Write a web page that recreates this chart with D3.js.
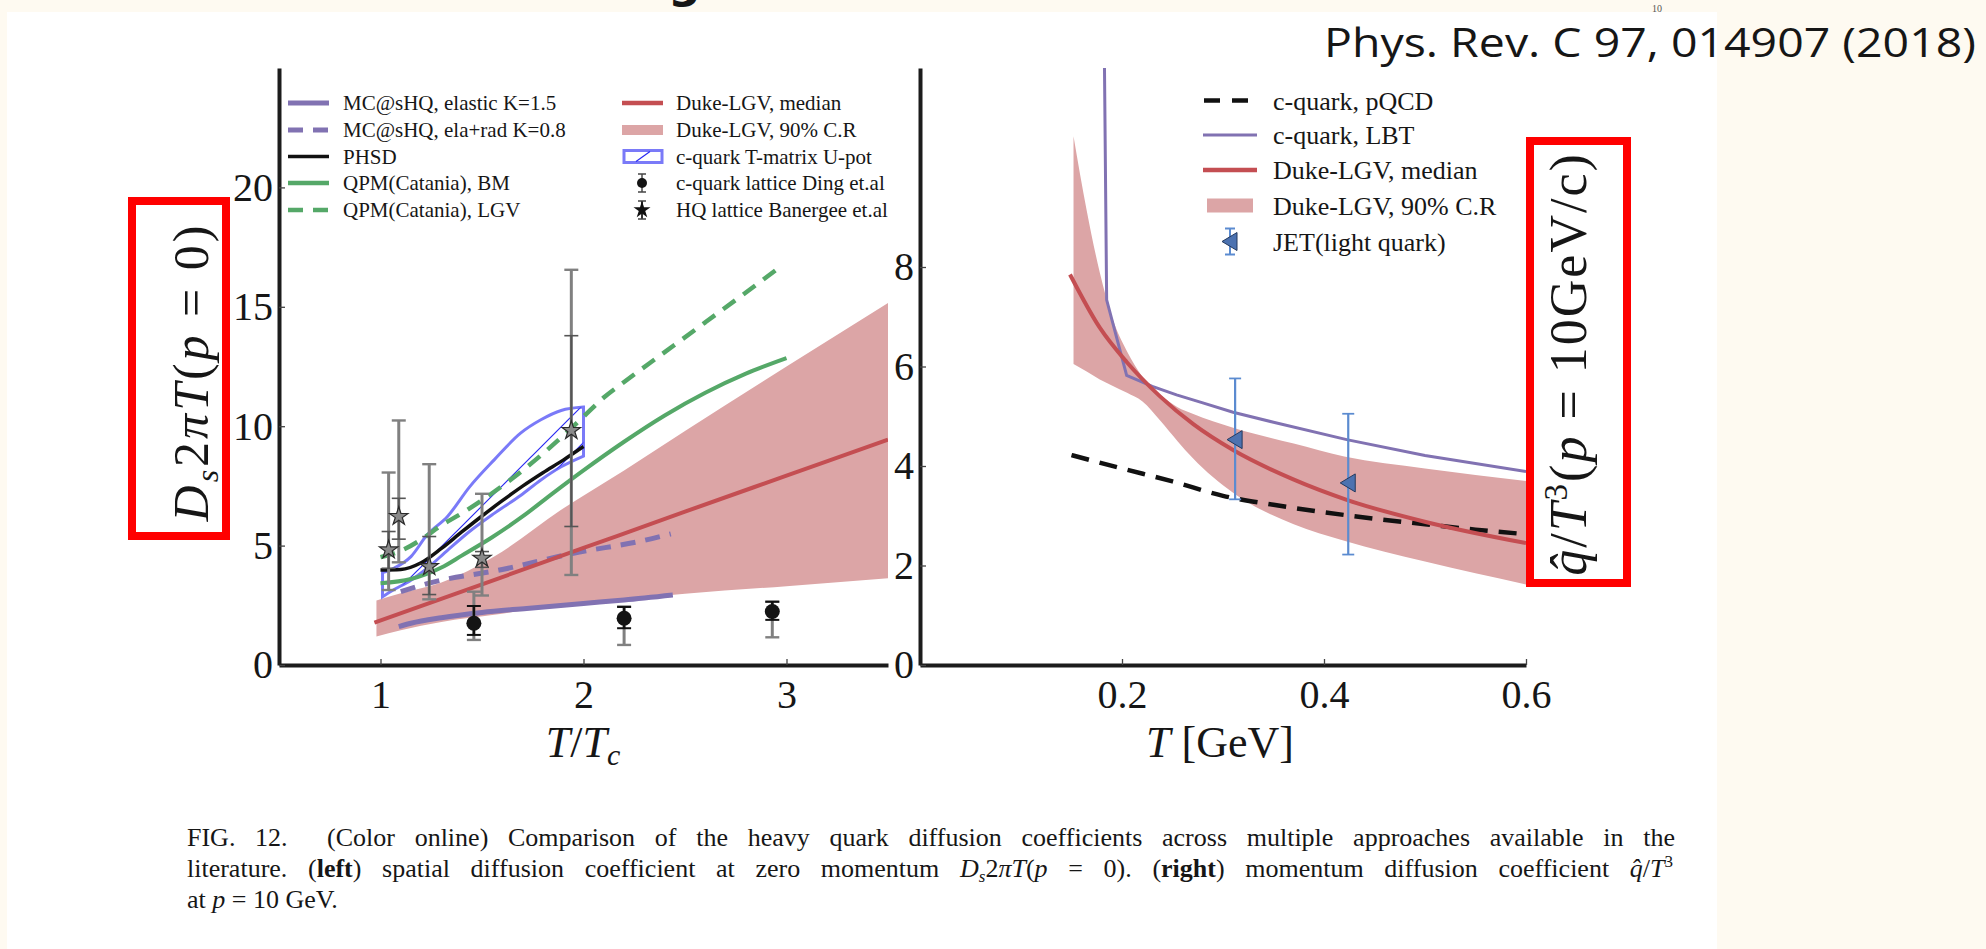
<!DOCTYPE html>
<html>
<head>
<meta charset="utf-8">
<script src="https://cdn.jsdelivr.net/npm/d3@7"></script>
<style>
  body { margin: 0; background: #fefaf1; }
  svg { display: block; }
  text { font-family: "Liberation Serif", "DejaVu Serif", serif; fill: #161616; white-space: pre; }
</style>
</head>
<body>
<svg id="fig" width="1986" height="949"></svg>
<script>
// ---- left panel: D_s 2piT (p=0) against T/Tc ----
const mcsElasticX = [1.09, 1.15, 1.3, 1.5, 1.72, 2.0, 2.2, 2.44];
const mcsElasticY = [1.61, 1.75, 1.98, 2.2, 2.37, 2.58, 2.72, 2.93];
const mcsRadX = [1.1, 1.25, 1.6, 1.95, 2.3, 2.43];
const mcsRadY = [3.07, 3.45, 4.0, 4.68, 5.22, 5.49];
const phsdX = [1.0, 1.1, 1.2, 1.3, 1.4, 1.5, 1.6, 1.7, 1.8, 1.9, 2.0];
const phsdY = [3.98, 4.0, 4.28, 4.88, 5.57, 6.24, 6.88, 7.49, 8.05, 8.58, 9.15];
const qpmBmX = [1.0, 1.15, 1.3, 1.4, 1.55, 1.7, 1.85, 2.0, 2.2, 2.4, 2.6, 2.8, 3.0];
const qpmBmY = [3.42, 3.6, 4.08, 4.58, 5.35, 6.22, 7.2, 8.15, 9.35, 10.45, 11.4, 12.2, 12.85];
const qpmLgvX = [1.0, 1.1, 1.2, 1.3, 1.4, 1.5, 1.6, 1.7, 1.8, 1.9, 2.0, 2.1, 2.2, 2.4, 2.6, 2.8, 2.95];
const qpmLgvY = [4.52, 4.78, 5.25, 5.85, 6.35, 6.9, 7.5, 8.15, 8.85, 9.6, 10.4, 11.2, 11.85, 13.1, 14.35, 15.6, 16.55];
const dukeMedX = [0.97, 1.5, 2.0, 2.5, 3.0, 3.5];
const dukeMedY = [1.77, 3.38, 4.9, 6.42, 7.93, 9.44];
const dukeBandX = [0.98, 1.1, 1.3, 1.56, 1.89, 2.2, 2.5, 3.0, 3.5];
const dukeBandHi = [2.7, 3.0, 3.45, 4.54, 6.5, 8.15, 9.8, 12.5, 15.16];
const dukeBandLo = [1.19, 1.45, 1.8, 2.1, 2.5, 2.75, 2.98, 3.3, 3.63];
const tmX = [1.01, 1.065, 1.15, 1.23, 1.33, 1.44, 1.56, 1.69, 1.79, 1.89, 2.0];
const tmHi = [3.87, 4.05, 4.54, 5.45, 6.22, 7.47, 8.59, 9.71, 10.27, 10.66, 10.8];
const tmLo = [2.86, 3.15, 3.55, 4.05, 4.8, 5.6, 6.35, 7.1, 7.75, 8.3, 8.75];
const dingX = [1.46, 2.2, 2.93];
const dingY = [1.75, 1.96, 2.24];
const dingStatLo = [1.26, 1.54, 1.89];
const dingStatHi = [2.47, 2.43, 2.65];
const dingSysLo = [1.05, 0.84, 1.16];
const dingSysHi = [3.07, 2.45, 2.65];
const banX = [1.04, 1.09, 1.24, 1.5, 1.94];
const banY = [4.82, 6.22, 4.12, 4.47, 9.82];
const banTotLo = [3.14, 4.3, 2.75, 2.91, 3.77];
const banTotHi = [8.06, 10.24, 8.41, 7.17, 16.55];
const banStatLo = [4.05, 5.27, 2.95, 4.09, 5.8];
const banStatHi = [5.59, 6.98, 5.38, 4.75, 13.79];
const leftTicksX = [1, 2, 3];
const leftTicksY = [0, 5, 10, 15, 20];

// ---- right panel: qhat/T^3 (p=10 GeV/c) against T ----
const pqcdT = [0.15, 0.2, 0.25, 0.3, 0.35, 0.4, 0.45, 0.5, 0.55, 0.6];
const pqcdQ = [4.22, 3.95, 3.69, 3.4, 3.22, 3.07, 2.94, 2.83, 2.72, 2.63];
const lbtT = [0.1822, 0.1848, 0.2046, 0.23, 0.254, 0.28, 0.31, 0.35, 0.4225, 0.5, 0.6];
const lbtQ = [13.0, 7.34, 5.82, 5.6, 5.43, 5.27, 5.08, 4.88, 4.53, 4.21, 3.89];
const dukeMedT = [0.1485, 0.178, 0.2046, 0.2376, 0.2706, 0.31, 0.3696, 0.4225, 0.5017, 0.6];
const dukeMedQ = [7.85, 6.78, 6.09, 5.40, 4.84, 4.32, 3.73, 3.32, 2.87, 2.45];
const dukeBandT = [0.152, 0.165, 0.178, 0.19, 0.205, 0.22, 0.238, 0.255, 0.27, 0.31, 0.37, 0.42, 0.5, 0.6];
const dukeBandQHi = [10.63, 9.14, 7.89, 7.0, 6.3, 5.8, 5.43, 5.18, 5.05, 4.77, 4.45, 4.19, 3.95, 3.70];
const dukeBandQLo = [6.05, 5.9, 5.74, 5.62, 5.47, 5.3, 4.91, 4.5, 4.16, 3.46, 2.83, 2.5, 2.08, 1.62];
const jetT = [0.312, 0.424];
const jetQ = [4.53, 3.66];
const jetLo = [3.33, 2.22];
const jetHi = [5.76, 5.05];
const rightTicksX = [0.2, 0.4, 0.6];
const rightTicksY = [0, 2, 4, 6, 8];

const legendLeft1 = ['MC@sHQ, elastic K=1.5', 'MC@sHQ, ela+rad K=0.8', 'PHSD', 'QPM(Catania), BM', 'QPM(Catania), LGV'];
const legendLeft2 = ['Duke-LGV, median', 'Duke-LGV, 90% C.R', 'c-quark T-matrix U-pot', 'c-quark lattice Ding et.al', 'HQ lattice Banergee et.al'];
const legendRight = ['c-quark, pQCD', 'c-quark, LBT', 'Duke-LGV, median', 'Duke-LGV, 90% C.R', 'JET(light quark)'];

const purple = '#8172b2', green = '#55a868', red = '#c44e52', bandFill = '#dca5a6', jetBlue = '#4c72b0';

const svg = d3.select('#fig');

// page background + the white figure sheet
svg.append('rect').attr('width', 1986).attr('height', 949).attr('fill', '#fefaf1');
svg.append('text').attr('x', 668).attr('y', -3).style('font-family', 'DejaVu Sans').style('font-weight', 'bold').style('font-size', '46px').text('g');
svg.append('rect').attr('x', 7).attr('y', 12).attr('width', 1710).attr('height', 937).attr('fill', '#fff');
svg.append('text').attr('x', 1652).attr('y', 12).style('font-size', '10px').style('fill', '#555').text('10');

const defs = svg.append('defs');
defs.append('clipPath').attr('id', 'clipL').append('rect').attr('x', 279).attr('y', 68).attr('width', 609).attr('height', 597);
defs.append('clipPath').attr('id', 'clipR').append('rect').attr('x', 920).attr('y', 68).attr('width', 606).attr('height', 597);
const hatch = defs.append('pattern').attr('id', 'hatch').attr('patternUnits', 'userSpaceOnUse').attr('width', 38).attr('height', 38);
hatch.append('path').attr('d', 'M0,38 L38,0 M-10,10 L10,-10 M28,48 L48,28').attr('stroke', '#2a2af2').attr('stroke-width', 1.2);

const xL = d3.scaleLinear().domain([0.5, 3.5]).range([279, 888]);
const yL = d3.scaleLinear().domain([0, 25]).range([665, 68]);
const xR = d3.scaleLinear().domain([0, 0.6]).range([920, 1526]);
const yR = d3.scaleLinear().domain([0, 12]).range([665, 68]);

function linePath(xs, ys, sx, sy, curve) {
    return d3.line().x((d, i) => sx(xs[i])).y(d => sy(d)).curve(curve || d3.curveMonotoneX)(ys);
}
function bandPath(xs, lo, hi, sx, sy) {
    return d3.area().x((d, i) => sx(xs[i])).y0((d, i) => sy(lo[i])).y1(d => sy(d)).curve(d3.curveMonotoneX)(hi);
}
function errBars(g, xs, lo, hi, sx, sy, color, width, cap) {
    g.selectAll(null).data(xs).join('line')
        .attr('x1', d => sx(d)).attr('x2', d => sx(d))
        .attr('y1', (d, i) => sy(lo[i])).attr('y2', (d, i) => sy(hi[i]))
        .attr('stroke', color).attr('stroke-width', width);
    [lo, hi].forEach(arr => {
        g.selectAll(null).data(xs).join('line')
            .attr('x1', d => sx(d) - cap).attr('x2', d => sx(d) + cap)
            .attr('y1', (d, i) => sy(arr[i])).attr('y2', (d, i) => sy(arr[i]))
            .attr('stroke', color).attr('stroke-width', width * 0.8);
    });
}
function drawAxes(sx, sy, tx, ty, fmt) {
    const ax = svg.append('g').attr('transform', `translate(0,${sy.range()[0]})`)
        .call(d3.axisBottom(sx).tickValues(tx).tickFormat(fmt).tickSizeInner(-6).tickSizeOuter(0).tickPadding(15));
    const ay = svg.append('g').attr('transform', `translate(${sx.range()[0]},0)`)
        .call(d3.axisLeft(sy).tickValues(ty).tickFormat(d3.format('d')).tickSizeInner(-6).tickSizeOuter(0).tickPadding(6));
    [ax, ay].forEach(a => {
        a.select('.domain').attr('stroke', '#1c1c1c').attr('stroke-width', 4);
        a.selectAll('.tick line').attr('stroke', '#444').attr('stroke-width', 1.3);
        a.selectAll('text').style('font-family', '"Liberation Serif", serif').style('font-size', '40px').style('fill', '#161616');
    });
}

// ---------- left panel ----------
const pL = svg.append('g').attr('clip-path', 'url(#clipL)');
pL.append('path').attr('d', bandPath(dukeBandX, dukeBandLo, dukeBandHi, xL, yL)).attr('fill', bandFill);
pL.append('path').attr('d', bandPath(tmX, tmLo, tmHi, xL, yL))
    .attr('fill', 'url(#hatch)').attr('stroke', '#4d4df5').attr('stroke-opacity', 0.75).attr('stroke-width', 3);
pL.append('path').attr('d', linePath(mcsElasticX, mcsElasticY, xL, yL)).attr('fill', 'none').attr('stroke', purple).attr('stroke-width', 5);
pL.append('path').attr('d', linePath(mcsRadX, mcsRadY, xL, yL)).attr('fill', 'none').attr('stroke', purple).attr('stroke-width', 5).attr('stroke-dasharray', '15,10');
pL.append('path').attr('d', linePath(dukeMedX, dukeMedY, xL, yL)).attr('fill', 'none').attr('stroke', red).attr('stroke-width', 4);
pL.append('path').attr('d', linePath(phsdX, phsdY, xL, yL)).attr('fill', 'none').attr('stroke', '#111').attr('stroke-width', 3.5);
pL.append('path').attr('d', linePath(qpmBmX, qpmBmY, xL, yL)).attr('fill', 'none').attr('stroke', green).attr('stroke-width', 4);
pL.append('path').attr('d', linePath(qpmLgvX, qpmLgvY, xL, yL)).attr('fill', 'none').attr('stroke', green).attr('stroke-width', 4.5).attr('stroke-dasharray', '15,10');

// lattice points
errBars(pL, dingX, dingSysLo, dingSysHi, xL, yL, '#808080', 3, 7);
errBars(pL, dingX, dingStatLo, dingStatHi, xL, yL, '#111', 2.5, 7);
pL.selectAll(null).data(dingX).join('circle')
    .attr('cx', d => xL(d)).attr('cy', (d, i) => yL(dingY[i])).attr('r', 7.5).attr('fill', '#141414');
errBars(pL, banX, banTotLo, banTotHi, xL, yL, '#808080', 3, 7);
errBars(pL, banX, banStatLo, banStatHi, xL, yL, '#555', 2, 7);
pL.selectAll(null).data(banX).join('path')
    .attr('transform', (d, i) => `translate(${xL(d)},${yL(banY[i])})`)
    .attr('d', d3.symbol(d3.symbolStar, 105))
    .attr('fill', '#8a8a8a').attr('stroke', '#2a2a2a').attr('stroke-width', 1.2);

drawAxes(xL, yL, leftTicksX, leftTicksY, d3.format('d'));

// ---------- right panel ----------
const pR = svg.append('g').attr('clip-path', 'url(#clipR)');
pR.append('path').attr('d', bandPath(dukeBandT, dukeBandQLo, dukeBandQHi, xR, yR)).attr('fill', bandFill);
pR.append('path').attr('d', linePath(pqcdT, pqcdQ, xR, yR)).attr('fill', 'none').attr('stroke', '#111').attr('stroke-width', 4.5).attr('stroke-dasharray', '18,11');
pR.append('path').attr('d', linePath(lbtT, lbtQ, xR, yR, d3.curveLinear)).attr('fill', 'none').attr('stroke', purple).attr('stroke-width', 3);
pR.append('path').attr('d', linePath(dukeMedT, dukeMedQ, xR, yR)).attr('fill', 'none').attr('stroke', red).attr('stroke-width', 4);
errBars(pR, jetT, jetLo, jetHi, xR, yR, '#5b8bd0', 2.2, 6);
const triLeft = 'M-8,0 L7,-9 L7,9 Z';
pR.selectAll(null).data(jetT).join('path')
    .attr('transform', (d, i) => `translate(${xR(d)},${yR(jetQ[i])})`)
    .attr('d', triLeft).attr('fill', jetBlue).attr('stroke', '#23395e').attr('stroke-width', 1);

drawAxes(xR, yR, rightTicksX, rightTicksY, d3.format('.1f'));

// ---------- legends ----------
const legL = svg.append('g').style('font-size', '21px');
const rowsL = [103, 130, 156.5, 183, 210];
legendLeft1.forEach((t, i) => {
    legL.append('text').attr('x', 343).attr('y', rowsL[i]).attr('dy', '0.35em').text(t);
});
legendLeft2.forEach((t, i) => {
    legL.append('text').attr('x', 676).attr('y', rowsL[i]).attr('dy', '0.35em').text(t);
});
const sampleL = [[purple, 5, null], [purple, 5, '15,10'], ['#111', 3.5, null], [green, 4.5, null], [green, 4.5, '15,10']];
sampleL.forEach((s, i) => {
    legL.append('line').attr('x1', 288).attr('x2', 329).attr('y1', rowsL[i]).attr('y2', rowsL[i])
        .attr('stroke', s[0]).attr('stroke-width', s[1]).attr('stroke-dasharray', s[2]);
});
legL.append('line').attr('x1', 622).attr('x2', 663).attr('y1', rowsL[0]).attr('y2', rowsL[0]).attr('stroke', red).attr('stroke-width', 4.5);
legL.append('rect').attr('x', 622).attr('y', rowsL[1] - 5).attr('width', 41).attr('height', 10).attr('fill', bandFill);
legL.append('rect').attr('x', 624).attr('y', rowsL[2] - 6).attr('width', 38).attr('height', 12)
    .attr('fill', 'none').attr('stroke', '#4d4df5').attr('stroke-opacity', 0.75).attr('stroke-width', 3);
legL.append('line').attr('x1', 636).attr('x2', 650).attr('y1', rowsL[2] + 5).attr('y2', rowsL[2] - 5).attr('stroke', '#2a2af2').attr('stroke-width', 1.2);
legL.append('line').attr('x1', 642).attr('x2', 642).attr('y1', rowsL[3] - 9).attr('y2', rowsL[3] + 9).attr('stroke', '#777').attr('stroke-width', 2);
legL.append('circle').attr('cx', 642).attr('cy', rowsL[3]).attr('r', 5).attr('fill', '#141414');
legL.append('line').attr('x1', 642).attr('x2', 642).attr('y1', rowsL[4] - 9).attr('y2', rowsL[4] + 9).attr('stroke', '#333').attr('stroke-width', 2);
[rowsL[4] - 9, rowsL[4] + 9, rowsL[3] - 9, rowsL[3] + 9].forEach(y => {
    legL.append('line').attr('x1', 638).attr('x2', 646).attr('y1', y).attr('y2', y).attr('stroke', '#444').attr('stroke-width', 1.5);
});
legL.append('path').attr('transform', `translate(642,${rowsL[4]})`).attr('d', d3.symbol(d3.symbolStar, 90)).attr('fill', '#111');

const legR = svg.append('g').style('font-size', '26px');
const rowsR = [100.5, 135, 170, 205.5, 241.5];
legendRight.forEach((t, i) => {
    legR.append('text').attr('x', 1273).attr('y', rowsR[i]).attr('dy', '0.35em').text(t);
});
legR.append('line').attr('x1', 1204).attr('x2', 1250).attr('y1', rowsR[0]).attr('y2', rowsR[0]).attr('stroke', '#111').attr('stroke-width', 4.5).attr('stroke-dasharray', '16,12');
legR.append('line').attr('x1', 1203).attr('x2', 1257).attr('y1', rowsR[1]).attr('y2', rowsR[1]).attr('stroke', purple).attr('stroke-width', 3);
legR.append('line').attr('x1', 1203).attr('x2', 1257).attr('y1', rowsR[2]).attr('y2', rowsR[2]).attr('stroke', red).attr('stroke-width', 4.5);
legR.append('rect').attr('x', 1207).attr('y', rowsR[3] - 7).attr('width', 46).attr('height', 14).attr('fill', bandFill);
legR.append('line').attr('x1', 1230).attr('x2', 1230).attr('y1', rowsR[4] - 13).attr('y2', rowsR[4] + 13).attr('stroke', '#5b8bd0').attr('stroke-width', 2);
[rowsR[4] - 13, rowsR[4] + 13].forEach(y => {
    legR.append('line').attr('x1', 1225).attr('x2', 1235).attr('y1', y).attr('y2', y).attr('stroke', '#5b8bd0').attr('stroke-width', 2);
});
legR.append('path').attr('transform', `translate(1230,${rowsR[4]})`).attr('d', triLeft).attr('fill', jetBlue).attr('stroke', '#23395e');

// ---------- axis titles ----------
const xtL = svg.append('text').attr('x', 583).attr('y', 757).attr('text-anchor', 'middle').style('font-size', '44px');
xtL.append('tspan').style('font-style', 'italic').text('T');
xtL.append('tspan').text('/');
xtL.append('tspan').style('font-style', 'italic').text('T');
xtL.append('tspan').style('font-style', 'italic').style('font-size', '30px').attr('dy', 8).text('c');

const xtR = svg.append('text').attr('x', 1220).attr('y', 757).attr('text-anchor', 'middle').style('font-size', '44px');
xtR.append('tspan').style('font-style', 'italic').text('T');
xtR.append('tspan').text(' [GeV]');

const ytL = svg.append('text').attr('transform', 'translate(208,372) rotate(-90)').attr('text-anchor', 'middle')
    .style('font-size', '50px').style('letter-spacing', '3px');
ytL.append('tspan').style('font-style', 'italic').text('D');
ytL.append('tspan').style('font-style', 'italic').style('font-size', '32px').attr('dy', 10).text('s');
ytL.append('tspan').attr('dy', -10).text('2');
ytL.append('tspan').style('font-style', 'italic').text('πT');
ytL.append('tspan').text('(');
ytL.append('tspan').style('font-style', 'italic').text('p');
ytL.append('tspan').text(' = 0)');

const ytR = svg.append('text').attr('transform', 'translate(1586,364) rotate(-90)').attr('text-anchor', 'middle')
    .style('font-size', '52px').style('letter-spacing', '2px');
ytR.append('tspan').style('font-style', 'italic').text('q\u0302');
ytR.append('tspan').text('/');
ytR.append('tspan').style('font-style', 'italic').text('T');
ytR.append('tspan').style('font-size', '33px').attr('dy', -19).text('3');
ytR.append('tspan').attr('dy', 19).text('(');
ytR.append('tspan').style('font-style', 'italic').text('p');
ytR.append('tspan').text(' = 10GeV/c)');

// highlight boxes
svg.append('rect').attr('x', 132).attr('y', 201).attr('width', 94).attr('height', 335).attr('fill', 'none').attr('stroke', '#ff0000').attr('stroke-width', 8);
svg.append('rect').attr('x', 1530).attr('y', 141).attr('width', 97).attr('height', 442).attr('fill', 'none').attr('stroke', '#ff0000').attr('stroke-width', 8);

// reference tag
svg.append('text').attr('x', 1324).attr('y', 57).style('font-family', '"Open Sans", sans-serif').style('font-size', '40px')
    .attr('textLength', 652).attr('lengthAdjust', 'spacingAndGlyphs').text('Phys. Rev. C 97, 014907 (2018)');

// ---------- caption ----------
const cap = svg.append('g').style('font-size', '26px');
function justify(t, target) {
    const len = t.node().getComputedTextLength();
    const spaces = (t.text().match(/ /g) || []).length;
    if (spaces) t.style('word-spacing', ((target - len) / spaces) + 'px');
}
const c1 = cap.append('text').attr('x', 187).attr('y', 846)
    .text('FIG. 12.  (Color online) Comparison of the heavy quark diffusion coefficients across multiple approaches available in the');
justify(c1, 1488);
const c2 = cap.append('text').attr('x', 187).attr('y', 877);
c2.append('tspan').text('literature. (');
c2.append('tspan').style('font-weight', 'bold').text('left');
c2.append('tspan').text(') spatial diffusion coefficient at zero momentum ');
c2.append('tspan').style('font-style', 'italic').text('D');
c2.append('tspan').style('font-style', 'italic').style('font-size', '17px').attr('dy', 5).text('s');
c2.append('tspan').attr('dy', -5).text('2');
c2.append('tspan').style('font-style', 'italic').text('πT');
c2.append('tspan').text('(');
c2.append('tspan').style('font-style', 'italic').text('p');
c2.append('tspan').text(' = 0). (');
c2.append('tspan').style('font-weight', 'bold').text('right');
c2.append('tspan').text(') momentum diffusion coefficient ');
c2.append('tspan').style('font-style', 'italic').text('q\u0302');
c2.append('tspan').text('/');
c2.append('tspan').style('font-style', 'italic').text('T');
c2.append('tspan').style('font-size', '17px').attr('dy', -10).text('3');
justify(c2, 1486);
const c3 = cap.append('text').attr('x', 187).attr('y', 908);
c3.append('tspan').text('at ');
c3.append('tspan').style('font-style', 'italic').text('p');
c3.append('tspan').text(' = 10 GeV.');
</script>
</body>
</html>
